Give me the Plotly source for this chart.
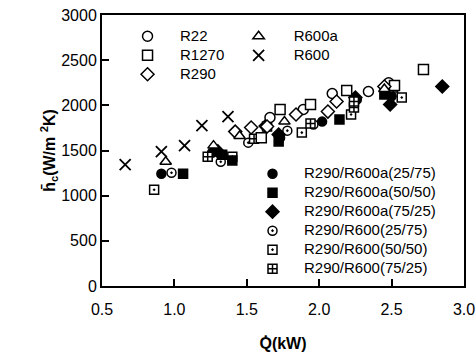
import plotly.graph_objects as go

# ---- data (Q in kW, h in W/m2K) ----
r22_q = [1.66, 1.89, 2.09, 2.34, 2.48]
r22_h = [1865, 1954, 2131, 2153, 2250]
r1270_q = [1.60, 1.73, 1.94, 2.19, 2.52, 2.72]
r1270_h = [1640, 1954, 2009, 2164, 2220, 2398]
r290_q = [1.42, 1.53, 1.64, 1.84, 2.06, 2.12, 2.45]
r290_h = [1709, 1754, 1765, 1898, 1931, 2042, 2209]
r600a_q = [0.94, 1.27, 1.45, 1.76, 2.45]
r600a_h = [1376, 1554, 1660, 1820, 2180]
r600_q = [0.66, 0.91, 1.07, 1.19, 1.37]
r600_h = [1343, 1487, 1554, 1776, 1876]
m2575a_q = [0.91, 1.26, 1.73, 2.02, 2.26, 2.50]
m2575a_h = [1243, 1476, 1640, 1820, 2064, 2100]
m5050a_q = [1.06, 1.33, 1.40, 1.72, 2.14, 2.45]
m5050a_h = [1243, 1454, 1390, 1600, 1843, 2120]
m7525a_q = [1.30, 1.63, 1.72, 2.25, 2.49, 2.85]
m7525a_h = [1490, 1770, 1676, 2087, 2009, 2209]
m2575_q = [0.98, 1.32, 1.51, 1.78, 1.96, 2.47]
m2575_h = [1254, 1376, 1587, 1720, 1787, 2230]
m5050_q = [0.86, 1.40, 1.88, 2.22, 2.57]
m5050_h = [1066, 1432, 1698, 1898, 2087]
m7525_q = [1.23, 1.55, 1.64, 1.94, 2.24, 2.24, 2.51]
m7525_h = [1432, 1631, 1765, 1798, 1976, 2042, 2198]

x_ticks = [0.5, 1.0, 1.5, 2.0, 2.5, 3.0]
y_ticks = [0, 500, 1000, 1500, 2000, 2500, 3000]

FONT = "Liberation Sans, Arial, sans-serif"
LW = 1.5


def lab(t):
    return '<span style="font-size:15px">' + t + '</span>'


series = [
    (m2575a_q, m2575a_h, "R290/R600a(25/75)", "circle", "black", 9, "legend3"),
    (m5050a_q, m5050a_h, "R290/R600a(50/50)", "square", "black", 9, "legend3"),
    (m7525a_q, m7525a_h, "R290/R600a(75/25)", "diamond", "black", 10, "legend3"),
    (m2575_q, m2575_h, "R290/R600(25/75)", "circle-open-dot", "black", 9, "legend3"),
    (m5050_q, m5050_h, "R290/R600(50/50)", "square-open-dot", "black", 9, "legend3"),
    (m7525_q, m7525_h, "R290/R600(75/25)", "square-cross", "white", 9, "legend3"),
    (r22_q, r22_h, "R22", "circle", "white", 10, "legend"),
    (r1270_q, r1270_h, "R1270", "square", "white", 10, "legend"),
    (r290_q, r290_h, "R290", "diamond", "white", 10, "legend"),
    (r600a_q, r600a_h, "R600a", "triangle-up", "white", 10, "legend2"),
    (r600_q, r600_h, "R600", "x-thin-open", "black", 11, "legend2"),
]

fig = go.Figure()
for q, h, name, sym, col, size, lg in series:
    fig.add_trace(go.Scatter(
        x=q, y=h, mode="markers", name=lab(name), legend=lg,
        marker=dict(symbol=sym, color=col, size=size,
                    line=dict(color="black", width=1.8 if sym.startswith("x") else LW)),
    ))

legend_common = dict(bgcolor="rgba(0,0,0,0)", borderwidth=0,
                     font=dict(family=FONT, size=12, color="black"),
                     xanchor="left", yanchor="top", tracegroupgap=0,
                     traceorder="normal")

fig.update_layout(
    width=476, height=356,
    margin=dict(l=102, r=12, t=15, b=70, autoexpand=False),
    paper_bgcolor="white", plot_bgcolor="white",
    font=dict(family=FONT, size=16, color="black"),
    legend=dict(x=0.036, y=0.975, itemwidth=55, **legend_common),
    legend2=dict(x=0.336, y=0.975, itemwidth=60, **legend_common),
    legend3=dict(x=0.384, y=0.468, itemwidth=53, **legend_common),
    xaxis=dict(range=[0.5, 3.0], tickvals=x_ticks, ticktext=[f"{v:.1f}" for v in x_ticks],
               ticks="inside", ticklen=7, tickwidth=1.5, tickcolor="black",
               showline=True, linecolor="black", linewidth=2, mirror=True,
               showgrid=False, zeroline=False, automargin=False,
               tickfont=dict(size=16), ticklabelstandoff=8,
               title=dict(text="<b>Q\u0307(kW)</b>", font=dict(size=16), standoff=21)),
    yaxis=dict(range=[0, 3000], tickvals=y_ticks, ticktext=[str(v) for v in y_ticks],
               ticks="inside", ticklen=7, tickwidth=1.5, tickcolor="black",
               showline=True, linecolor="black", linewidth=2, mirror=True,
               showgrid=False, zeroline=False, automargin=False,
               tickfont=dict(size=16),
               title=dict(text="<b>h\u0304<sub>c</sub>(W/m <sup>2</sup>K)</b>", font=dict(size=16), standoff=2)),
)

fig.write_html("out.html")
